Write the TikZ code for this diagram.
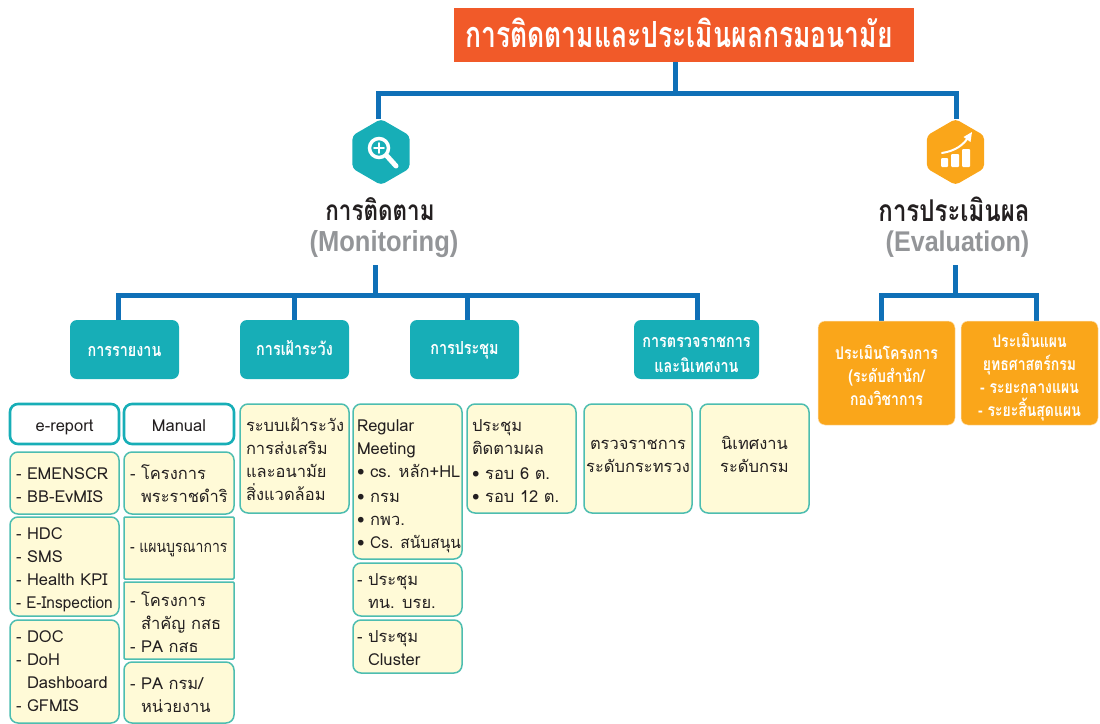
\documentclass[tikz,border=0pt]{standalone}
\usepackage{fontspec}
\usetikzlibrary{shapes.geometric,backgrounds}
\setmainfont[Script=Thai]{Loma}
\newfontfamily\hfont[Script=Thai,FakeStretch=0.80,BoldFont={Loma Bold}]{Loma}
\newfontfamily\tfont[Script=Thai,FakeStretch=0.735,BoldFont={Loma Bold}]{Loma}
\newfontfamily\cfont[Script=Thai,FakeStretch=0.85]{Loma}
\newfontfamily\dfont[Script=Thai,FakeStretch=0.94]{Loma}
\newfontfamily\lfont{Liberation Sans}[FakeStretch=0.88]
\definecolor{cteal}{HTML}{17AEB7}
\definecolor{corange}{HTML}{FAA61A}
\definecolor{ctitle}{HTML}{F15A29}
\definecolor{cyel}{HTML}{FFFAD7}
\definecolor{cedge}{HTML}{4DBDB0}
\definecolor{cblue}{HTML}{0F70B7}
\definecolor{cgrey}{HTML}{939598}
\definecolor{cink}{HTML}{231F20}
\tikzset{
  conn/.style={draw=cblue,line width=5pt},
  base/.style={inner sep=0pt,outer sep=0pt,text=cink,font=\fontsize{16.5}{23}\selectfont},
  ylw/.style={base,draw=cedge,fill=cyel,line width=1.5pt,rounded corners=8pt},
  ysq/.style={base,draw=cedge,fill=cyel,line width=1.5pt,rounded corners=1pt},
  wht/.style={base,draw=cteal,fill=white,line width=2.6pt,rounded corners=8pt},
  tealbox/.style={base,fill=cteal,text=white,rounded corners=7pt,font=\hfont\bfseries\fontsize{18}{25}\selectfont},
  orgbox/.style={base,draw=white!70!corange,line width=.5pt,fill=corange,text=white,rounded corners=7pt,font=\hfont\bfseries\fontsize{17.5}{23}\selectfont},
  hexa/.style={regular polygon,regular polygon sides=6,shape border rotate=30,minimum size=66pt,inner sep=0pt,outer sep=0pt,rounded corners=4pt},
  heading/.style={inner sep=0pt,font=\hfont\bfseries\fontsize{30}{34}\selectfont,text=cink},
  latin/.style={inner sep=0pt,font=\lfont\bfseries\fontsize{29}{32}\selectfont,text=cgrey},
  iconw/.style={draw=white,line cap=round},
}
% [style]{name}{x1}{y1}{x2}{y2}{first baseline}{left pad}{lines}
\newcommand{\gbox}[8][ylw]{%
  \node[#1] (#2) at ({(#3+#5)/2},{(#4+#6)/2}) {%
    \parbox[c][\dimexpr #6pt-#4pt\relax][t]{\dimexpr #5pt-#3pt\relax}{%
      \lineskiplimit=-100pt\parindent=0pt
      \vspace*{\dimexpr #7pt-14pt\relax}%
      \leftskip=#8pt \relax \boxlines}};}
\newcommand{\boxlines}{}
\newcommand{\ml}[1]{\mbox{\rule{0pt}{14pt}#1}}
\newcommand{\tbox}[9][ylw]{\renewcommand{\boxlines}{#9}\gbox[#1]{#2}{#3}{#4}{#5}{#6}{#7}{#8}}
\begin{document}
\begin{tikzpicture}[x=1pt,y=-1pt]
\useasboundingbox (0,0) rectangle (1100,723);
\node[fill=ctitle,text=white,minimum width=460pt,minimum height=54pt,inner sep=0pt,font=\tfont\bfseries\fontsize{36}{40}\selectfont] (title) at (684,35) {\hspace*{-10pt}\raisebox{4pt}{การติดตามและประเมินผลกรมอนามัย}};
\node[hexa,fill=cteal] (mon) at (381,152) {};
\node[hexa,fill=corange] (eva) at (955.5,152) {};
% magnifier icon
\draw[iconw,line width=3.5pt] (379,148) circle (9.5pt);
\draw[iconw,line width=5pt] (387,156) -- (396,166);
\draw[iconw,line width=1.6pt] (374,148) -- (384,148) (379,143) -- (379,153);
% chart icon
\fill[white,rounded corners=1pt] (941,158) rectangle (948,167);
\fill[white,rounded corners=1pt] (951,154) rectangle (959,167);
\fill[white,rounded corners=1pt] (962,149) rectangle (970,167);
\draw[iconw,line width=2pt] (942,153) .. controls (955,151) and (964,145) .. (969,136);
\fill[white] (972,132) -- (970.5,142) -- (963.5,137) -- cycle;

\node[heading,font=\hfont\bfseries\fontsize{28}{34}\selectfont] (month) at (380,209) {การติดตาม};
\node[latin] (monen) at (384,244.5) {(Monitoring)};
\node[heading] (evath) at (954,209) {การประเมินผล};
\node[latin,font=\lfont\bfseries\fontsize{28.5}{32}\selectfont] (evaen) at (957.5,244.5) {(Evaluation)};

\tbox[tealbox]{b1}{70}{320}{179}{379}{36}{0}{\centering\ml{การรายงาน}}
\tbox[tealbox]{b2}{240}{320}{349}{379}{34}{0}{\centering\ml{การเฝ้าระวัง}}
\tbox[tealbox]{b3}{410}{320}{519}{379}{34}{0}{\centering\ml{การประชุม}}
\tbox[tealbox]{b4}{634}{320}{759}{379}{27}{0}{\centering\ml{การตรวจราชการ}\\\ml{และนิเทศงาน}}
\tbox[orgbox]{o1}{818}{321}{955}{425}{38}{0}{\centering\ml{ประเมินโครงการ}\\\ml{(ระดับสำนัก/}\\\ml{กองวิชาการ}}
\tbox[orgbox]{o2}{961}{321}{1098}{425}{26}{0}{\centering\ml{ประเมินแผน}\\\ml{ยุทธศาสตร์กรม}\\\ml{- ระยะกลางแผน}\\\ml{- ระยะสิ้นสุดแผน}}

\tbox[wht]{r1}{10}{404}{119}{444}{27}{0}{\centering\ml{e-report}}
\tbox[wht]{r2}{124}{404}{234}{444}{27}{0}{\centering\ml{Manual}}

\tbox{a1}{10}{452}{119}{514}{27}{6}{\ml{- EMENSCR}\\\ml{- BB-EvMIS}}
\tbox{a2}{10}{517}{119}{616}{22}{6}{\ml{- HDC}\\\ml{- SMS}\\\ml{- Health KPI}\\\ml{\dfont - E-Inspection}}
\tbox{a3}{10}{620}{119}{723}{22}{6}{\ml{- DOC}\\\ml{- DoH}\\\ml{\phantom{- }Dashboard}\\\ml{- GFMIS}}

\tbox{c1}{124}{452}{234}{514}{27}{6}{\ml{- โครงการ}\\\ml{\phantom{- }พระราชดำริ}}
\tbox[ysq]{c2}{124}{517}{234}{579}{35}{6}{\ml{\cfont - แผนบูรณาการ}}
\tbox[ysq]{c3}{124}{582}{234}{659}{24}{6}{\ml{- โครงการ}\\\ml{\phantom{- }สำคัญ กสธ}\\\ml{- PA กสธ}}
\tbox{c4}{124}{662}{234}{723}{27}{6}{\ml{- PA กรม/}\\\ml{\phantom{- }หน่วยงาน}}

\tbox{d1}{240}{404}{349}{513}{27}{6}{\ml{ระบบเฝ้าระวัง}\\\ml{การส่งเสริม}\\\ml{และอนามัย}\\\ml{สิ่งแวดล้อม}}
\tbox{e1}{353}{404}{462}{559}{27}{4}{\ml{Regular}\\\ml{Meeting}\\\ml{• cs. หลัก+HL}\\[2pt]\ml{• กรม}\\\ml{• กพว.}\\\ml{• {\dfont Cs. สนับสนุน}}}
\tbox{e2}{353}{563}{462}{616}{22}{4}{\ml{- ประชุม}\\\ml{\phantom{- }ทน. บรย.}}
\tbox{e3}{353}{620}{462}{673}{22}{4}{\ml{- ประชุม}\\\ml{\phantom{- }Cluster}}
\tbox{f1}{467}{404}{576}{513}{27}{5}{\ml{ประชุม}\\\ml{ติดตามผล}\\[2pt]\ml{• รอบ 6 ต.}\\\ml{• รอบ 12 ต.}}
\tbox{g1}{584}{404}{692}{513}{45}{0}{\centering\ml{ตรวจราชการ}\\\ml{ระดับกระทรวง}}
\tbox{g2}{700}{404}{809}{513}{45}{0}{\centering\ml{นิเทศงาน}\\\ml{ระดับกรม}}

\coordinate (j0) at (675,93);
\coordinate (jm) at (378,93);
\coordinate (je) at (956,93);
\coordinate (t0) at (375,265);
\coordinate (t1) at (375,295);
\coordinate (tl) at (118.5,295);
\coordinate (tr) at (697,295);
\coordinate (t2) at (294,295);
\coordinate (t3) at (467,295);
\coordinate (u0) at (955,265);
\coordinate (u1) at (955,295);
\coordinate (ul) at (881,295);
\coordinate (ur) at (1036,295);
\begin{scope}[on background layer]
\draw[conn] (j0 |- title.south) -- (j0);
\draw[conn] (jm |- mon.north) -- (jm) -- (je) -- (je |- eva.north);
\draw[conn] (t0) -- (t1);
\draw[conn] (tl |- b1.north) -- (tl) -- (tr) -- (tr |- b4.north);
\draw[conn] (t2) -- (t2 |- b2.north);
\draw[conn] (t3) -- (t3 |- b3.north);
\draw[conn] (u0) -- (u1);
\draw[conn] (ul |- o1.north) -- (ul) -- (ur) -- (ur |- o2.north);
\end{scope}
\end{tikzpicture}
\end{document}
